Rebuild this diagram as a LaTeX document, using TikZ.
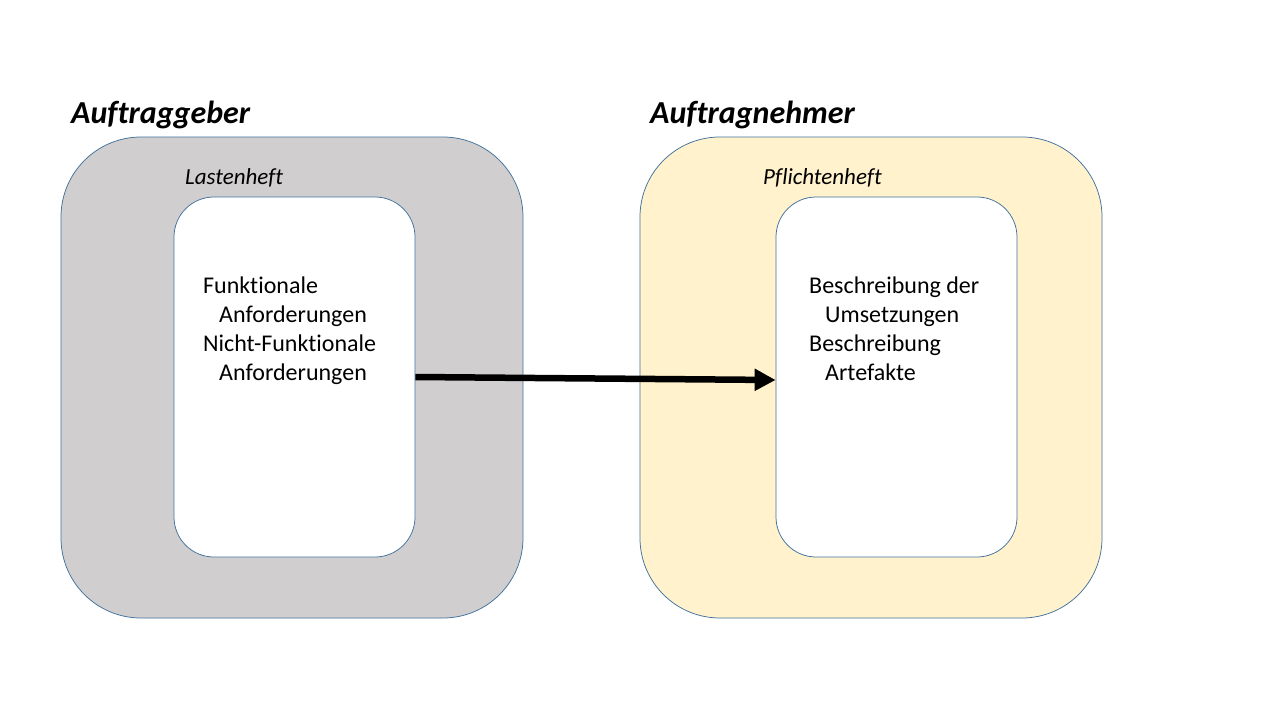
\documentclass[tikz,border=0pt]{standalone}
\usepackage{fontspec}
\setmainfont[Ligatures=NoCommon]{Carlito}
\usetikzlibrary{arrows.meta}
\definecolor{framegray}{HTML}{D0CECE}
\definecolor{frameyellow}{HTML}{FFF2CC}
\definecolor{edgeblue}{HTML}{41719C}
\tikzset{
  outerframe/.style={draw=edgeblue, line width=0.75pt, rounded corners=80pt, minimum width=462pt, minimum height=481pt, inner sep=0pt},
  innerbox/.style={draw=edgeblue, line width=0.75pt, fill=white, rounded corners=40pt, minimum width=241pt, minimum height=360pt, inner sep=0pt},
  titletext/.style={anchor=base west, inner sep=0pt, font=\fontsize{32pt}{38pt}\selectfont\bfseries\itshape},
  labeltext/.style={anchor=base west, inner sep=0pt, font=\fontsize{23pt}{27pt}\selectfont\itshape},
  bodytext/.style={anchor=base west, inner sep=0pt, font=\fontsize{24pt}{29pt}\selectfont},
  bigarrow/.style={line width=6.5pt, -{Triangle[length=21pt,width=21pt]}}
}
\begin{document}
\begin{tikzpicture}[x=1pt,y=-1pt]
\useasboundingbox[fill=white] (0,0) rectangle (1280,720);
% left frame
\node[outerframe, fill=framegray] (agframe) at (292,377.5) {};
\node[innerbox] (agin) at (294.5,377) {};
% right frame
\node[outerframe, fill=frameyellow] (anframe) at (871,377.5) {};
\node[innerbox] (anin) at (896.5,377) {};
% titles
\node[titletext] (agtitle) at (71,123) {Auftraggeber};
\node[titletext] (antitle) at (650,123) {Auftragnehmer};
\node[labeltext] (aglabel) at (185,184) {Lastenheft};
\node[labeltext] (anlabel) at (763,184) {Pflichtenheft};
% left text
\node[bodytext] (l1) at (203,293) {Funktionale};
\node[bodytext] (l2) at (219,322) {Anforderungen};
\node[bodytext] (l3) at (203,351) {Nicht-Funktionale};
\node[bodytext] (l4) at (219,380) {Anforderungen};
% right text
\node[bodytext] (r1) at (809,293) {Beschreibung der};
\node[bodytext] (r2) at (825,322) {Umsetzungen};
\node[bodytext] (r3) at (809,351) {Beschreibung};
\node[bodytext] (r4) at (825,380) {Artefakte};
% arrow
\draw[bigarrow] (agin.east) -- ([yshift=-3pt]anin.west);
\end{tikzpicture}
\end{document}
